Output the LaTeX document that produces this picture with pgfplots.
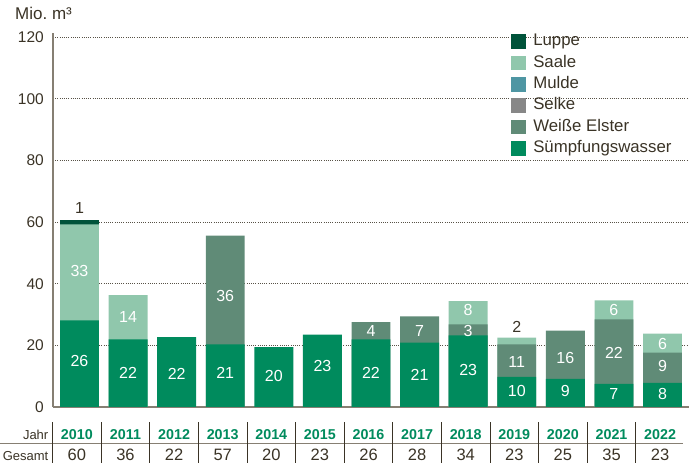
\documentclass[border=0pt]{standalone}
\usepackage{pgfplots}
\pgfplotsset{compat=1.18}
\usepackage{pgfplotstable}
\usepackage{fontspec}
\setmainfont{Liberation Sans}
\definecolor{cSump}{HTML}{008B5D}
\definecolor{cWE}{HTML}{608B77}
\definecolor{cSaale}{HTML}{90C7AC}
\definecolor{cLuppe}{HTML}{00533A}
\definecolor{cSelke}{HTML}{878787}
\definecolor{cMulde}{HTML}{4E96A3}
\definecolor{cText}{HTML}{3A3326}
\definecolor{cAxis}{HTML}{867F73}

% Suempfungswasser (bottom segment)
\pgfplotstableread{
x y
0 28.1
1 21.9
2 22.7
3 20.3
4 19.4
5 23.5
6 21.9
7 20.9
8 23.2
9 9.8
10 9.1
11 7.5
12 7.8
}\sump
% cumulative top of Weisse Elster
\pgfplotstableread{
x y
3 55.6
6 27.5
7 29.4
8 26.8
9 20.3
10 24.8
11 28.4
12 17.6
}\weiss
% cumulative top of Saale
\pgfplotstableread{
x y
0 59.2
1 36.3
8 34.3
9 22.5
11 34.6
12 23.8
}\saale
% cumulative top of Luppe
\pgfplotstableread{
x y
0 60.5
}\luppe
% value labels inside segments
\pgfplotstableread{
x y label
0 14.9 26
0 44.0 33
1 11.0 22
1 29.3 14
2 10.7 22
3 11.0 21
3 36.0 36
4 10.2 20
5 13.2 23
6 11.0 22
6 24.6 4
7 10.5 21
7 24.5 7
8 11.9 23
8 24.5 3
8 31.3 8
9 5.1 10
9 14.6 11
10 5.1 9
10 16.0 16
11 4.1 7
11 17.6 22
11 31.4 6
12 4.1 8
12 13.2 9
12 20.5 6
}\whitelabels
% value labels above bars
\pgfplotstableread{
x y label
0 64.6 1
9 25.9 2
}\darklabels

\begin{document}
\begin{tikzpicture}
\useasboundingbox (0pt,0pt) rectangle (689pt,463pt);
\begin{axis}[
  at={(53pt,56pt)}, anchor=south west,
  scale only axis, width=636pt, height=374pt,
  xmin=-0.545, xmax=12.545, ymin=0, ymax=121.3,
  axis lines*=left,
  axis line style={draw=cAxis, line width=1.4pt},
  xtick=\empty,
  ytick={0,20,...,120},
  ymajorgrids,
  major grid style={draw=cText!85, line width=0.6pt, dash pattern=on 0.7pt off 1.5pt},
  major tick length=0pt,
  /pgf/number format/assume math mode=true,
  yticklabel style={font=\fontsize{15.5}{18}\selectfont, text=cText, inner sep=0pt, anchor=east, xshift=-9pt},
  legend style={at={(0.7201,0.9981)}, anchor=north west, draw=none, fill=none,
    inner sep=0pt, outer sep=0pt, row sep=5.8pt, column sep=0pt,
    font=\fontsize{16.8}{19}\selectfont, text=cText,
    nodes={inner sep=0pt, outer sep=0pt, text height=12pt, text depth=3.6pt}},
  legend cell align=left,
  legend image code/.code={\fill[#1] (0pt,-7.3pt) rectangle (14.6pt,7.3pt); \path (22.3pt,0pt);},
]
\addplot[ybar, bar width=0.8, bar shift=0pt, fill=cLuppe, draw=none, forget plot] table[x=x,y=y] {\luppe};
\addplot[ybar, bar width=0.8, bar shift=0pt, fill=cSaale, draw=none, forget plot] table[x=x,y=y] {\saale};
\addplot[ybar, bar width=0.8, bar shift=0pt, fill=cWE, draw=none, forget plot] table[x=x,y=y] {\weiss};
\addplot[ybar, bar width=0.8, bar shift=0pt, fill=cSump, draw=none, forget plot] table[x=x,y=y] {\sump};

\addplot[only marks, mark=*, mark options={draw opacity=0, fill opacity=0}, forget plot,
  nodes near coords, point meta=explicit symbolic,
  every node near coord/.append style={anchor=center, text=white, inner sep=0pt,
    opacity=1, text opacity=1, fill opacity=1, draw opacity=1,
    font=\fontsize{16}{18}\selectfont}]
  table[x=x,y=y,meta=label] {\whitelabels};
\addplot[only marks, mark=*, mark options={draw opacity=0, fill opacity=0}, forget plot,
  nodes near coords, point meta=explicit symbolic,
  every node near coord/.append style={anchor=center, text=cText, inner sep=0pt,
    opacity=1, text opacity=1, fill opacity=1, draw opacity=1,
    font=\fontsize{16}{18}\selectfont}]
  table[x=x,y=y,meta=label] {\darklabels};

\addlegendimage{fill=cLuppe, draw=none}
\addlegendentry{Luppe}
\addlegendimage{fill=cSaale, draw=none}
\addlegendentry{Saale}
\addlegendimage{fill=cMulde, draw=none}
\addlegendentry{Mulde}
\addlegendimage{fill=cSelke, draw=none}
\addlegendentry{Selke}
\addlegendimage{fill=cWE, draw=none}
\addlegendentry{Weiße Elster}
\addlegendimage{fill=cSump, draw=none}
\addlegendentry{Sümpfungswasser}
\end{axis}

% unit label
\node[anchor=base west, inner sep=0pt, text=cText, font=\fontsize{17}{20}\selectfont] at (15pt,443.7pt) {Mio.\ m³};

% table below the chart
\draw[cAxis, line width=1.2pt] (0pt,19.7pt) -- (683pt,19.7pt);
\foreach \k in {0,...,12} {
  \draw[cText, line width=0.9pt] ({52.7pt+48.6pt*\k},0pt) -- ++(0pt,41.3pt);
}
\node[anchor=base east, inner sep=0pt, text=cText, font=\fontsize{13}{15}\selectfont] at (48.5pt,23.7pt) {Jahr};
\node[anchor=base east, inner sep=0pt, text=cText, font=\fontsize{13}{15}\selectfont] at (48.5pt,2.3pt) {Gesamt};
\foreach \k/\yr/\tot in {0/2010/60,1/2011/36,2/2012/22,3/2013/57,4/2014/20,5/2015/23,6/2016/26,7/2017/28,8/2018/34,9/2019/23,10/2020/25,11/2021/35,12/2022/23} {
  \node[anchor=base, inner sep=0pt, text=cSump, font=\bfseries\fontsize{14.3}{17}\selectfont] at ({76.9pt+48.6pt*\k},23.7pt) {\yr};
  \node[anchor=base, inner sep=0pt, text=cText, font=\fontsize{16.5}{18}\selectfont] at ({76.9pt+48.6pt*\k},2.3pt) {\tot};
}
\end{tikzpicture}
\end{document}
